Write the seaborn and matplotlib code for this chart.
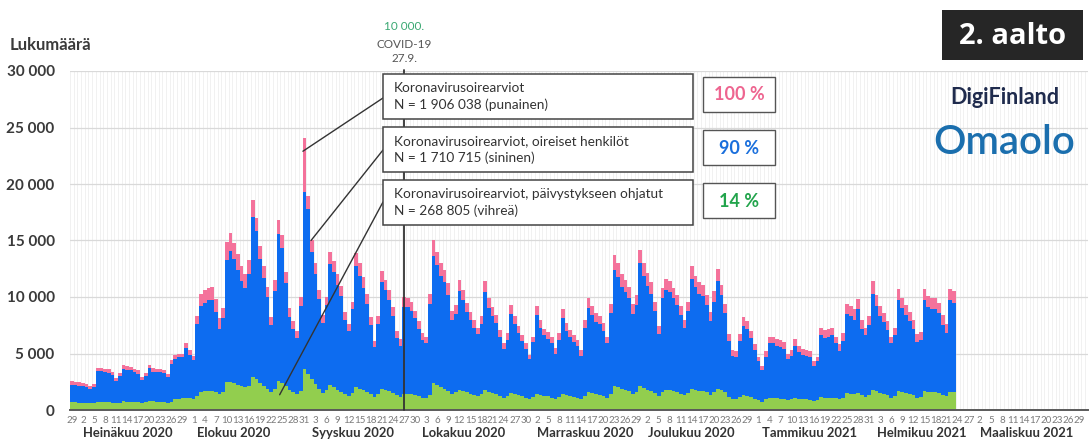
import numpy as np
import pandas as pd
import matplotlib
matplotlib.use("Agg")
import matplotlib.pyplot as plt
import seaborn as sns
from matplotlib.ticker import FixedLocator, MultipleLocator, FuncFormatter
from matplotlib.patches import Rectangle

# ---------------- data ----------------
start_date = "2020-06-29"
axis_days = 275  # axis runs to end of March 2021

# Koronavirusoirearviot (punainen) - one row per week, Mon..Sun
total_assessments = [
    2550, 2500, 2450, 2400, 2300, 2150, 2300,
    3750, 3720, 3650, 3600, 3400, 2800, 3300,
    3950, 3850, 3800, 3650, 3500, 2900, 3300,
    4000, 3700, 3650, 3650, 3550, 3200, 4400,
    4900, 5000, 5000, 5900, 5300, 4800, 8300,
    10300, 10600, 10800, 10900, 9800, 8100, 9000,
    14900, 15700, 14800, 13800, 12700, 12000, 13300,
    18600, 17000, 14500, 12700, 10900, 8200, 11500,
    16800, 15500, 12200, 9000, 7900, 7000, 10000,
    24100, 18900, 15000, 13000, 10600, 8400, 10000,
    14000, 13200, 12000, 11000, 8700, 7600, 9600,
    13850, 13000, 11800, 10300, 8200, 6150, 8300,
    12300, 11500, 10600, 9100, 7000, 6300, 10000,
    9900, 9600, 8800, 7900, 6800, 6500, 10300,
    15000, 14000, 13000, 12400, 11200, 8800, 9300,
    11500, 10600, 9500, 8700, 8000, 7300, 8300,
    11400, 9900, 9100, 8400, 7100, 5900, 6800,
    9300, 8300, 7400, 6600, 5900, 4900, 6500,
    9200, 8000, 7200, 6900, 6500, 5500, 6800,
    8900, 7700, 7100, 6600, 6200, 5300, 8000,
    9900, 9200, 8600, 8300, 7700, 6500, 9400,
    13700, 13000, 12000, 11500, 10900, 9400, 10200,
    14200, 13000, 12100, 11300, 9600, 7400, 10800,
    11600, 11400, 10800, 10200, 9200, 8000, 9600,
    12700, 11900, 11300, 11100, 10200, 8700, 10500,
    12500, 11100, 9400, 6700, 5300, 5200, 6700,
    8200, 7900, 7000, 5800, 4700, 3900, 5200,
    6500, 6500, 6300, 6200, 6000, 5000, 5300,
    6300, 5700, 5400, 5300, 5200, 4300, 4700,
    7300, 7100, 7200, 7300, 6500, 5800, 6800,
    9400, 9200, 8900, 9800, 8000, 7300, 8300,
    11400, 10200, 9200, 8600, 7900, 6500, 7300,
    10700, 9900, 9300, 8700, 8000, 6700, 6900,
    10700, 10100, 9900, 9900, 9500, 8400, 7600,
    10700, 10500,
]

# oireiset henkilöt (sininen)
symptomatic = [
    2250, 2200, 2150, 2100, 2000, 1900, 2050,
    3450, 3420, 3350, 3300, 3100, 2550, 3000,
    3650, 3550, 3500, 3350, 3200, 2650, 3000,
    3700, 3400, 3350, 3350, 3250, 2950, 4100,
    4550, 4650, 4650, 5450, 4900, 4450, 7600,
    9200, 9500, 9700, 9750, 8700, 7200, 8100,
    13300, 14100, 13400, 12400, 11400, 10800, 12000,
    17100, 15800, 13400, 11700, 10000, 7500, 10500,
    15600, 14300, 11200, 8200, 7200, 6400, 9200,
    19300, 17800, 14000, 12000, 9800, 7700, 9300,
    12900, 12200, 11100, 10100, 8000, 7000, 8900,
    12700, 11900, 10800, 9400, 7500, 5600, 7600,
    11300, 10600, 9700, 8300, 6400, 5700, 9100,
    9100, 8800, 8100, 7200, 6200, 5900, 9400,
    13600, 12800, 11900, 11300, 10200, 8000, 8500,
    10500, 9700, 8700, 8000, 7300, 6700, 7600,
    10400, 9000, 8300, 7700, 6500, 5400, 6200,
    8500, 7600, 6800, 6100, 5400, 4500, 6000,
    8400, 7300, 6600, 6300, 5900, 5000, 6200,
    8100, 7000, 6500, 6000, 5700, 4800, 7300,
    9000, 8400, 7800, 7600, 7000, 5900, 8600,
    12400, 11800, 10900, 10400, 9900, 8500, 9300,
    13000, 11900, 11000, 10300, 8800, 6700, 9900,
    10600, 10400, 9900, 9300, 8400, 7300, 8800,
    11600, 10900, 10300, 10100, 9300, 7900, 9600,
    11400, 10200, 8600, 6100, 4800, 4700, 6100,
    7400, 7200, 6400, 5300, 4300, 3500, 4700,
    5900, 5900, 5700, 5600, 5400, 4500, 4800,
    5700, 5100, 4900, 4800, 4700, 3900, 4300,
    6600, 6400, 6500, 6600, 5900, 5200, 6100,
    8500, 8300, 8000, 8900, 7200, 6600, 7500,
    10300, 9200, 8300, 7800, 7100, 5900, 6600,
    9700, 9000, 8400, 7900, 7200, 6000, 6200,
    9700, 9100, 8900, 8900, 8600, 7500, 6800,
    9700, 9500,
]

# päivystykseen ohjatut (vihreä)
emergency_referred = [
    700, 680, 660, 650, 630, 590, 620,
    740, 720, 700, 680, 660, 610, 660,
    760, 740, 720, 700, 680, 620, 670,
    780, 760, 740, 720, 700, 660, 740,
    1000, 1000, 1050, 1100, 1050, 1000, 1250,
    1550, 1650, 1700, 1700, 1600, 1450, 1550,
    2450, 2500, 2350, 2250, 2150, 2000, 2150,
    2900, 2700, 2400, 2100, 1900, 1600, 1900,
    2600, 2400, 2100, 1800, 1600, 1400, 1700,
    3600, 3200, 2700, 2300, 1900, 1500, 1800,
    2200, 2000, 1800, 1600, 1400, 1200, 1500,
    2000, 1900, 1750, 1600, 1400, 1150, 1400,
    1900, 1800, 1650, 1500, 1300, 1150, 1450,
    1450, 1400, 1300, 1200, 1100, 1050, 1350,
    2350, 2200, 2000, 1850, 1700, 1450, 1600,
    1800, 1700, 1550, 1450, 1350, 1250, 1400,
    1750, 1600, 1500, 1400, 1250, 1100, 1250,
    1500, 1400, 1300, 1200, 1100, 950, 1150,
    1450, 1350, 1250, 1200, 1100, 1000, 1150,
    1400, 1300, 1200, 1150, 1100, 1000, 1250,
    1600, 1500, 1400, 1350, 1250, 1100, 1400,
    2100, 2000, 1850, 1750, 1650, 1450, 1600,
    2100, 1950, 1800, 1700, 1500, 1250, 1600,
    1800, 1750, 1650, 1550, 1450, 1300, 1500,
    1900, 1800, 1700, 1650, 1550, 1350, 1600,
    1900, 1750, 1550, 1150, 950, 950, 1150,
    1300, 1250, 1150, 1000, 850, 750, 950,
    1100, 1100, 1050, 1000, 1000, 900, 950,
    1050, 1000, 950, 950, 900, 800, 850,
    1150, 1100, 1100, 1100, 1050, 950, 1050,
    1500, 1450, 1400, 1500, 1300, 1150, 1300,
    1800, 1650, 1500, 1400, 1300, 1100, 1200,
    1700, 1600, 1500, 1400, 1300, 1100, 1150,
    1700, 1600, 1550, 1550, 1500, 1300, 1200,
    1600, 1550,
]

month_names = ["Heinäkuu 2020", "Elokuu 2020", "Syyskuu 2020", "Lokakuu 2020",
               "Marraskuu 2020", "Joulukuu 2020", "Tammikuu 2021", "Helmikuu 2021",
               "Maaliskuu 2021"]
month_starts = ["2020-07-01", "2020-08-01", "2020-09-01", "2020-10-01", "2020-11-01",
                "2020-12-01", "2021-01-01", "2021-02-01", "2021-03-01"]

box_titles = ["Koronavirusoirearviot",
              "Koronavirusoirearviot, oireiset henkilöt",
              "Koronavirusoirearviot, päivystykseen ohjatut"]
box_counts = ["N = 1 906 038 (punainen)", "N = 1 710 715 (sininen)", "N = 268 805 (vihreä)"]
box_shares = ["100 %", "90 %", "14 %"]

marker_day = "2020-09-27"

# ---------------- style ----------------
sns.set_theme(style="white")
plt.rcParams["font.family"] = ["Lato", "DejaVu Sans"]

PINK = "#F4729B"
BLUE = "#0D6CF0"
GREEN = "#92CE4E"
TXT = "#3a3a3a"

W, H = 1090, 441
fig = plt.figure(figsize=(W / 100, H / 100), dpi=100)
ax = fig.add_axes([70 / W, 31 / H, (1088 - 70) / W, (410 - 71) / H])

dates = pd.date_range(start_date, periods=axis_days, freq="D")
n = len(total_assessments)
days = np.arange(n)
df = pd.DataFrame({"day": days, "punainen": total_assessments,
                   "sininen": symptomatic, "vihrea": emergency_referred})

for col, colr in [("punainen", PINK), ("sininen", BLUE), ("vihrea", GREEN)]:
    sns.histplot(data=df, x="day", weights=col, discrete=True, element="step",
                 fill=True, color=colr, alpha=1.0, linewidth=0, ax=ax, zorder=3)

ax.set_xlim(-0.5, 275.3)
ax.set_ylim(0, 30000)
ax.set_xlabel("")
ax.set_ylabel("")

# y axis
ax.yaxis.set_major_locator(MultipleLocator(5000))
ax.yaxis.set_major_formatter(FuncFormatter(lambda v, p: f"{int(v):,}".replace(",", " ")))
ax.tick_params(axis="y", length=0, pad=11, labelsize=11, labelcolor=TXT)
for lab in ax.get_yticklabels():
    lab.set_fontweight("bold")

# x axis: every third day
tick_pos = list(range(0, axis_days - 1, 3))
ax.xaxis.set_major_locator(FixedLocator(tick_pos))
ax.set_xticklabels([str(dates[i].day) for i in tick_pos])
ax.tick_params(axis="x", length=0, pad=4, labelsize=7, labelcolor="#7a7a7a")
ax.xaxis.set_minor_locator(FixedLocator(np.arange(-0.5, axis_days, 1)))

# grids
ax.set_axisbelow(True)
ax.grid(True, which="major", axis="y", color="#d9d9d9", lw=0.9, zorder=0)
ax.grid(True, which="minor", axis="x", color="#ececec", lw=0.5, zorder=0)
ax.grid(False, which="major", axis="x")
ax.tick_params(axis="x", which="minor", length=0)

for s in ["left", "right", "top"]:
    ax.spines[s].set_visible(False)
ax.spines["bottom"].set_color("#5a5a5a")
ax.spines["bottom"].set_linewidth(1.4)
ax.spines["bottom"].set_zorder(5)

# month labels
for name, ms in zip(month_names, month_starts):
    d = (pd.Timestamp(ms) - pd.Timestamp(start_date)).days
    ax.text(d + 1, -0.068, name, transform=ax.get_xaxis_transform(), ha="left",
            va="center", fontsize=9.4, fontweight="bold", color="#333333")

# vertical marker line (27.9.)
md = (pd.Timestamp(marker_day) - pd.Timestamp(start_date)).days
ax.plot([md, md], [0, 1.003], transform=ax.get_xaxis_transform(), color="#333333",
        lw=1.3, zorder=6, clip_on=False)


def fx(x):
    return x / W


def fy(y):
    return 1 - y / H


cx = 72 + md * 3.69
fig.text(fx(cx), fy(27), "10 000.", ha="center", va="center", fontsize=8.5, color="#3aa872")
fig.text(fx(cx), fy(44), "COVID-19", ha="center", va="center", fontsize=8.5, color="#555555")
fig.text(fx(cx), fy(59), "27.9.", ha="center", va="center", fontsize=8.5, color="#555555")

# y-axis title
fig.text(fx(10), fy(45), "Lukumäärä", ha="left", va="center", fontsize=12,
         fontweight="bold", color=TXT)

# annotation boxes
box_tops = [74, 127, 180]
share_colors = ["#EE6590", "#1A6FDC", "#22A44C"]
for top, t1, t2, sh, sc in zip(box_tops, box_titles, box_counts, box_shares, share_colors):
    fig.add_artist(Rectangle((fx(383), fy(top + 45)), (693 - 383) / W, 45 / H,
                             transform=fig.transFigure, facecolor="white",
                             edgecolor="#444444", lw=1.1, zorder=10))
    fig.text(fx(394), fy(top + 14), t1, ha="left", va="center", fontsize=9.8,
             color="#333333", zorder=11)
    fig.text(fx(394), fy(top + 31), t2, ha="left", va="center", fontsize=9.8,
             color="#333333", zorder=11)
    fig.add_artist(Rectangle((fx(703), fy(top + 38)), (775 - 703) / W, 35 / H,
                             transform=fig.transFigure, facecolor="white",
                             edgecolor="#555555", lw=1.0, zorder=10))
    fig.text(fx(739), fy(top + 21), sh, ha="center", va="center", fontsize=13,
             fontweight="bold", color=sc, zorder=11)

# leader lines (from box edge to data points)
leader_targets = [(62.6, 22900), (64.8, 15000), (56.3, 1350)]
leader_starts = [98, 150, 202]
for (tx, tv), sy in zip(leader_targets, leader_starts):
    ax.annotate("", xy=(tx, tv), xycoords="data", xytext=(383, H - sy),
                textcoords="figure pixels",
                arrowprops=dict(arrowstyle="-", color="#333333", lw=1.0,
                                shrinkA=0, shrinkB=0), zorder=9)

# "2. aalto" badge
fig.add_artist(Rectangle((fx(942), fy(60)), (1083 - 942) / W, 50 / H,
                         transform=fig.transFigure, facecolor="#262626",
                         edgecolor="none", zorder=10))
fig.text(fx(1013), fy(36), "2. aalto", ha="center", va="center", fontsize=21,
         fontweight="bold", color="white", family=["Open Sans", "DejaVu Sans"], zorder=11)

# logos as text
fig.text(fx(1005), fy(98), "DigiFinland", ha="center", va="center", fontsize=15.5,
         fontweight="bold", color="#1f2b4d", zorder=11)
fig.text(fx(1004), fy(143), "Omaolo", ha="center", va="center", fontsize=29,
         fontweight="semibold", color="#1b6fae", zorder=11)

fig.savefig("out.png", dpi=100, facecolor="white")
